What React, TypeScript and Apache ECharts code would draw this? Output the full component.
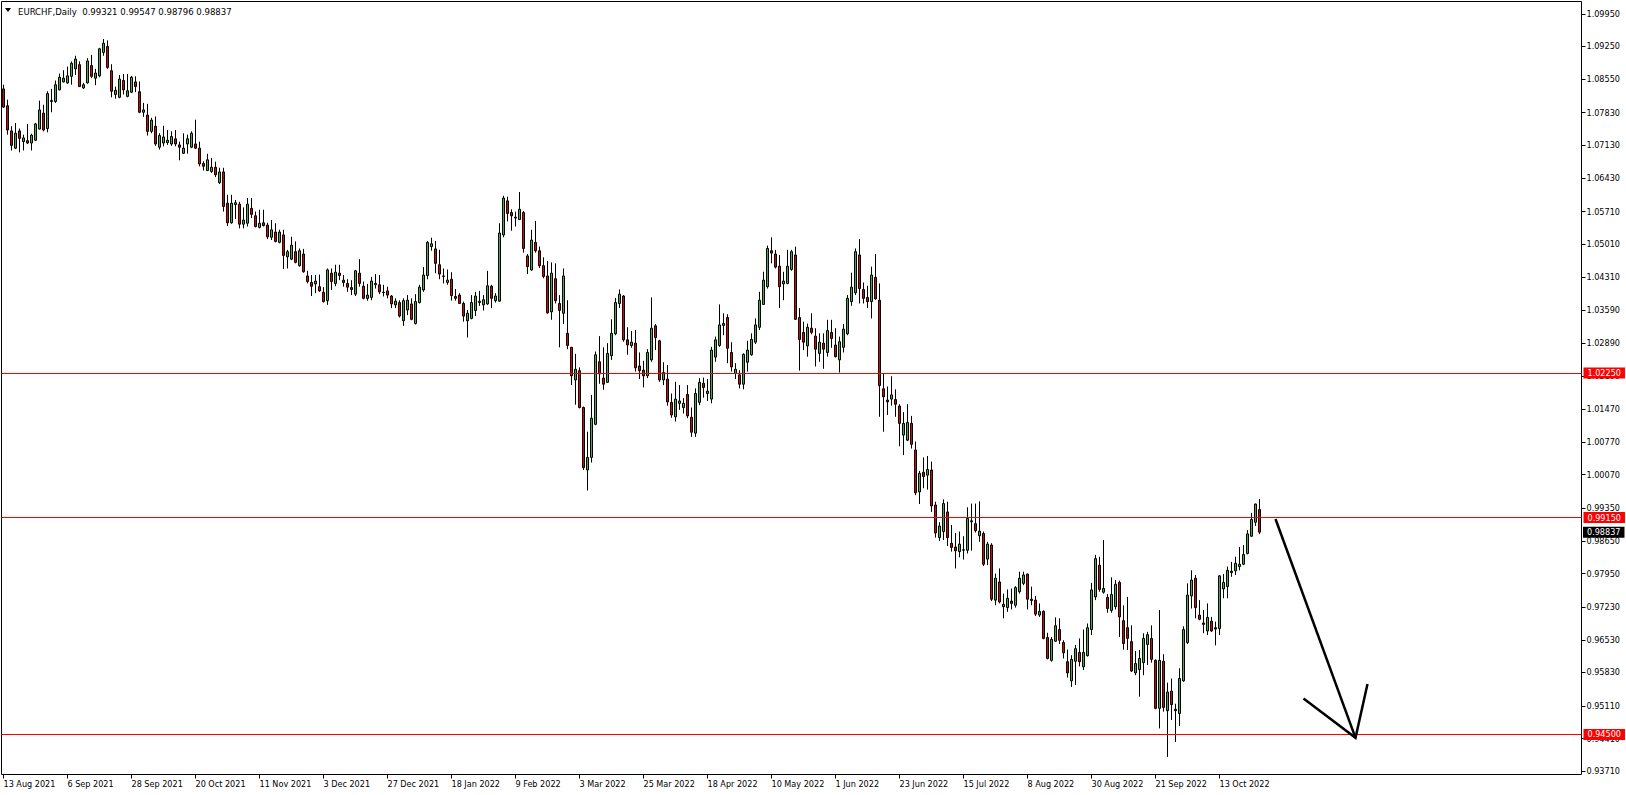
import React, { useEffect, useRef } from "react";
import * as echarts from "echarts";

const FONT = "'DejaVu Sans Condensed', 'Liberation Sans', Arial, sans-serif";

const symbolName = "EURCHF,Daily";
// last bar quote: open, high, low, close
const lastQuote = [0.99321, 0.99547, 0.98796, 0.98837];
const firstDay = "2021-08-13";
const totalSlots = 395;
const labelEvery = 16;

// candles: [open, close, low, high]
const aug2021 = [
  [1.0834, 1.0795, 1.0793, 1.0843], [1.0798, 1.0746, 1.0736, 1.0811], [1.0744, 1.0713, 1.0702, 1.0754],
  [1.0707, 1.0739, 1.0705, 1.0761], [1.0744, 1.0728, 1.0698, 1.0749], [1.0721, 1.0729, 1.0702, 1.0736],
  [1.0723, 1.0718, 1.0716, 1.0759], [1.0718, 1.0735, 1.0702, 1.0738], [1.0724, 1.0759, 1.0722, 1.0761],
  [1.0748, 1.0789, 1.0747, 1.0809], [1.0782, 1.0746, 1.0743, 1.08], [1.0749, 1.0824, 1.0741, 1.0829],
  [1.0809, 1.0807, 1.0784, 1.0834],
];
const sep2021 = [
  [1.0807, 1.0843, 1.0804, 1.0852], [1.0832, 1.0859, 1.0831, 1.0867], [1.0849, 1.0857, 1.0848, 1.0874],
  [1.0847, 1.0862, 1.0845, 1.0882], [1.0861, 1.0889, 1.0843, 1.0893], [1.0877, 1.0898, 1.0864, 1.0905],
  [1.0886, 1.0839, 1.0838, 1.0893], [1.0836, 1.0843, 1.0834, 1.0847], [1.0847, 1.0894, 1.0845, 1.09],
  [1.0884, 1.0861, 1.0857, 1.0907], [1.0857, 1.0868, 1.0842, 1.0877], [1.0862, 1.092, 1.0859, 1.0922],
  [1.0912, 1.0932, 1.0905, 1.0941], [1.0925, 1.088, 1.0877, 1.0938], [1.0873, 1.0829, 1.0816, 1.0887],
  [1.0822, 1.0831, 1.0813, 1.0839], [1.0816, 1.0855, 1.0814, 1.0864], [1.0852, 1.0832, 1.0822, 1.0866],
  [1.0818, 1.083, 1.0816, 1.0866], [1.0827, 1.0859, 1.0825, 1.0862], [1.0849, 1.0839, 1.0827, 1.0861],
  [1.0828, 1.0784, 1.0782, 1.085],
];
const oct2021 = [
  [1.0784, 1.0789, 1.0774, 1.0804], [1.0778, 1.0743, 1.0734, 1.0802], [1.0743, 1.0767, 1.0739, 1.0772],
  [1.0754, 1.0716, 1.0712, 1.0775], [1.0709, 1.0734, 1.0704, 1.0739], [1.0718, 1.0731, 1.0711, 1.0755],
  [1.0719, 1.0724, 1.0714, 1.0746], [1.0716, 1.0732, 1.0712, 1.0743], [1.0727, 1.0716, 1.0711, 1.0746],
  [1.0714, 1.0709, 1.0681, 1.0721], [1.0696, 1.0707, 1.0695, 1.0739], [1.0716, 1.0727, 1.0695, 1.0736],
  [1.0709, 1.0739, 1.0707, 1.0743], [1.0716, 1.0707, 1.0705, 1.0768], [1.0707, 1.0673, 1.0668, 1.0721],
  [1.0674, 1.0668, 1.0659, 1.0679], [1.0659, 1.0682, 1.0659, 1.0695], [1.0657, 1.0666, 1.0654, 1.0686],
  [1.0666, 1.065, 1.0645, 1.0678], [1.0633, 1.0656, 1.063, 1.0665], [1.0656, 1.0582, 1.0571, 1.0665],
];
const nov2021 = [
  [1.0589, 1.0547, 1.054, 1.0607], [1.0547, 1.0589, 1.0545, 1.0607], [1.0586, 1.059, 1.0555, 1.0596],
  [1.0587, 1.0544, 1.0535, 1.0592], [1.0544, 1.0553, 1.0535, 1.058], [1.0546, 1.0587, 1.0539, 1.06],
  [1.0578, 1.0565, 1.0557, 1.06], [1.0562, 1.0539, 1.0537, 1.0571], [1.0537, 1.0546, 1.0535, 1.0575],
  [1.0547, 1.0541, 1.0539, 1.0575], [1.0542, 1.0517, 1.0512, 1.0547], [1.0516, 1.0532, 1.051, 1.0553],
  [1.0527, 1.0507, 1.0505, 1.0546], [1.0505, 1.0527, 1.0503, 1.0532], [1.0521, 1.0477, 1.0448, 1.0532],
  [1.0474, 1.0485, 1.0449, 1.0489], [1.0469, 1.0499, 1.0467, 1.0517], [1.0485, 1.0462, 1.046, 1.0507],
  [1.0455, 1.0487, 1.0453, 1.0492], [1.048, 1.0442, 1.044, 1.0491], [1.0433, 1.0421, 1.0417, 1.0444],
  [1.0419, 1.0411, 1.039, 1.0435],
];
const dec2021 = [
  [1.0416, 1.0422, 1.0396, 1.0435], [1.041, 1.0401, 1.0399, 1.0436], [1.0398, 1.0378, 1.0376, 1.0409],
  [1.038, 1.0446, 1.0371, 1.0449], [1.0439, 1.0421, 1.0403, 1.0449], [1.0417, 1.0441, 1.0411, 1.0457],
  [1.0439, 1.0434, 1.0424, 1.0457], [1.0424, 1.0419, 1.041, 1.0435], [1.0417, 1.0409, 1.0399, 1.0426],
  [1.0408, 1.0404, 1.0392, 1.0424], [1.0394, 1.0444, 1.039, 1.0446], [1.0439, 1.0417, 1.041, 1.0469],
  [1.0411, 1.0385, 1.0383, 1.0421], [1.0385, 1.0392, 1.038, 1.0416], [1.0387, 1.0422, 1.0381, 1.0431],
  [1.0414, 1.0417, 1.0406, 1.0437], [1.0414, 1.0399, 1.0394, 1.0435], [1.0398, 1.0397, 1.0389, 1.0414],
  [1.0401, 1.0392, 1.0385, 1.041], [1.039, 1.0373, 1.0364, 1.0392], [1.0371, 1.0379, 1.0364, 1.0385],
  [1.0376, 1.0347, 1.0344, 1.0381], [1.0337, 1.038, 1.0326, 1.0385],
];
const jan2022 = [
  [1.036, 1.0381, 1.0349, 1.0392], [1.0373, 1.034, 1.0338, 1.0385], [1.0331, 1.0378, 1.0329, 1.0394],
  [1.0376, 1.0409, 1.0374, 1.0414], [1.0403, 1.0435, 1.0399, 1.0452], [1.0434, 1.0505, 1.0426, 1.0508],
  [1.0496, 1.0502, 1.0487, 1.0515], [1.0491, 1.046, 1.0439, 1.0508], [1.0457, 1.0437, 1.0426, 1.0489],
  [1.0433, 1.0432, 1.0417, 1.0449], [1.0419, 1.0424, 1.0414, 1.0447], [1.0426, 1.0391, 1.038, 1.0441],
  [1.0389, 1.0385, 1.038, 1.0405], [1.0392, 1.0374, 1.0373, 1.0396], [1.0374, 1.0347, 1.0335, 1.0378],
  [1.0337, 1.0353, 1.0301, 1.036], [1.0342, 1.0376, 1.034, 1.0392], [1.0359, 1.039, 1.0347, 1.0399],
  [1.0376, 1.0379, 1.0369, 1.0401], [1.0371, 1.0382, 1.0359, 1.0392], [1.0373, 1.0412, 1.0371, 1.0444],
];
const feb2022 = [
  [1.0411, 1.0385, 1.0364, 1.0414], [1.038, 1.039, 1.0376, 1.0396], [1.0379, 1.0525, 1.0378, 1.0546],
  [1.0521, 1.06, 1.0516, 1.0605], [1.0594, 1.0567, 1.055, 1.0603], [1.0569, 1.0562, 1.053, 1.0576],
  [1.0559, 1.0557, 1.0539, 1.0571], [1.0554, 1.0576, 1.0553, 1.0613], [1.0569, 1.0492, 1.0483, 1.0572],
  [1.0476, 1.0453, 1.0437, 1.048], [1.0446, 1.051, 1.0444, 1.0532], [1.0505, 1.0487, 1.0483, 1.0551],
  [1.0487, 1.0455, 1.045, 1.0496], [1.0455, 1.0432, 1.0428, 1.0473], [1.0433, 1.0354, 1.0352, 1.0465],
  [1.0356, 1.0439, 1.0339, 1.0462], [1.0427, 1.038, 1.0374, 1.046], [1.0374, 1.0359, 1.028, 1.0392],
  [1.0353, 1.0433, 1.033, 1.0449], [1.031, 1.0284, 1.0276, 1.0381],
];
const mar2022 = [
  [1.028, 1.0219, 1.0199, 1.0281], [1.021, 1.0233, 1.0157, 1.0266], [1.023, 1.0151, 1.0149, 1.0237],
  [1.0151, 1.0022, 1.0017, 1.0153], [1.0017, 1.0044, 0.9973, 1.0099], [1.0044, 1.0128, 1.0033, 1.0178],
  [1.0115, 1.0264, 1.0113, 1.0271], [1.0249, 1.0223, 1.0202, 1.0304], [1.0214, 1.0201, 1.0189, 1.028],
  [1.0205, 1.0267, 1.0204, 1.0289], [1.0262, 1.031, 1.0253, 1.034], [1.0309, 1.0376, 1.0306, 1.0386],
  [1.0374, 1.0394, 1.0364, 1.0404], [1.039, 1.0296, 1.0292, 1.0392], [1.0296, 1.0285, 1.0264, 1.0323],
  [1.0284, 1.0291, 1.0279, 1.0315], [1.0289, 1.0236, 1.0228, 1.0317], [1.024, 1.023, 1.0212, 1.0269],
  [1.0231, 1.0219, 1.0194, 1.0251], [1.0219, 1.0269, 1.0214, 1.0276], [1.0253, 1.0321, 1.0249, 1.0387],
  [1.0326, 1.0301, 1.0274, 1.033], [1.0294, 1.021, 1.0206, 1.0296],
];
const apr2022 = [
  [1.021, 1.0226, 1.0199, 1.0248], [1.0212, 1.0163, 1.0155, 1.0242], [1.0162, 1.0135, 1.0129, 1.0181],
  [1.0131, 1.0169, 1.0121, 1.0206], [1.016, 1.0165, 1.0146, 1.0199], [1.0151, 1.016, 1.0138, 1.0171],
  [1.0179, 1.0133, 1.0128, 1.0199], [1.013, 1.0098, 1.0088, 1.0151], [1.0096, 1.0181, 1.0088, 1.0192],
  [1.0162, 1.0205, 1.0156, 1.0214], [1.0203, 1.0194, 1.0172, 1.0215], [1.0181, 1.0186, 1.0165, 1.0212],
  [1.0169, 1.0274, 1.016, 1.0281], [1.0259, 1.0296, 1.0249, 1.0303], [1.0284, 1.0328, 1.0281, 1.0372],
  [1.0327, 1.0331, 1.0306, 1.0353], [1.0344, 1.0278, 1.0246, 1.0351], [1.0269, 1.0238, 1.0228, 1.0291],
  [1.0224, 1.0233, 1.0212, 1.0246], [1.0221, 1.0201, 1.0192, 1.0231], [1.0201, 1.0265, 1.019, 1.0267],
];
const may2022 = [
  [1.0248, 1.0274, 1.0228, 1.0294], [1.0264, 1.0297, 1.0262, 1.031], [1.0291, 1.0328, 1.0287, 1.0342],
  [1.0323, 1.0381, 1.0317, 1.0399], [1.0372, 1.0424, 1.0371, 1.0442], [1.041, 1.0492, 1.0406, 1.0498],
  [1.0487, 1.0482, 1.046, 1.0516], [1.048, 1.0452, 1.0449, 1.0489], [1.0454, 1.041, 1.0364, 1.0478],
  [1.0416, 1.0422, 1.0381, 1.0442], [1.0417, 1.0454, 1.0415, 1.0489], [1.0447, 1.0485, 1.0444, 1.0489],
  [1.0478, 1.034, 1.0339, 1.0496], [1.0344, 1.0297, 1.023, 1.0364], [1.0312, 1.0291, 1.0274, 1.0335],
  [1.0283, 1.0323, 1.026, 1.0331], [1.0321, 1.0312, 1.0308, 1.0353], [1.0304, 1.0276, 1.0239, 1.0321],
  [1.0267, 1.0291, 1.0249, 1.031], [1.0289, 1.0276, 1.0234, 1.031], [1.0269, 1.0316, 1.026, 1.0339],
  [1.0312, 1.0299, 1.0279, 1.0339],
];
const jun2022 = [
  [1.0285, 1.026, 1.0258, 1.0321], [1.0253, 1.0292, 1.0226, 1.0303], [1.028, 1.0319, 1.0269, 1.033],
  [1.0309, 1.0385, 1.0306, 1.0392], [1.0378, 1.0409, 1.0369, 1.044], [1.0397, 1.0485, 1.0392, 1.0492],
  [1.0478, 1.0406, 1.0374, 1.0512], [1.0404, 1.0385, 1.0374, 1.0419], [1.0387, 1.0378, 1.0364, 1.0412],
  [1.0378, 1.0435, 1.0342, 1.0453], [1.043, 1.0384, 1.0382, 1.048], [1.0381, 1.0198, 1.0131, 1.0417],
  [1.0191, 1.0174, 1.0099, 1.0223], [1.0167, 1.0163, 1.0135, 1.0196], [1.0169, 1.0178, 1.0155, 1.0218],
  [1.0168, 1.0158, 1.0131, 1.019], [1.0154, 1.0117, 1.0068, 1.0158], [1.0092, 1.0117, 1.0049, 1.0141],
  [1.0081, 1.0119, 1.0079, 1.0158], [1.0117, 1.0072, 1.0063, 1.0133], [1.006, 0.9968, 0.9963, 1.0078],
  [0.997, 1.001, 0.9944, 1.0015],
];
const jul2022 = [
  [1.0012, 1.0003, 0.9978, 1.0044], [1.0006, 1.0018, 0.9975, 1.0047], [1.0017, 0.994, 0.9927, 1.0035],
  [0.9942, 0.9882, 0.9872, 0.9949], [0.9872, 0.9897, 0.9865, 0.9905], [0.9885, 0.9945, 0.9867, 0.9954],
  [0.9927, 0.9872, 0.9854, 0.9949], [0.986, 0.9851, 0.9842, 0.9899], [0.9852, 0.9844, 0.9806, 0.9882],
  [0.9842, 0.9858, 0.983, 0.9885], [0.9845, 0.9846, 0.9825, 0.9875], [0.9845, 0.9913, 0.9838, 0.9937],
  [0.9908, 0.9906, 0.9844, 0.9945], [0.9902, 0.9887, 0.9883, 0.9945], [0.9876, 0.9886, 0.9863, 0.995],
  [0.9881, 0.9815, 0.9811, 0.9885], [0.9826, 0.9858, 0.9813, 0.9863], [0.9856, 0.974, 0.9736, 0.986],
  [0.9738, 0.9785, 0.9727, 0.9795], [0.9777, 0.9734, 0.9731, 0.9806], [0.9724, 0.9729, 0.9699, 0.9752],
];
const aug2022 = [
  [0.9722, 0.9742, 0.9713, 0.9761], [0.9736, 0.9731, 0.9718, 0.9763], [0.9727, 0.9765, 0.9722, 0.9768],
  [0.9756, 0.9785, 0.9752, 0.9799], [0.9774, 0.9792, 0.977, 0.9799], [0.9794, 0.974, 0.9718, 0.9795],
  [0.974, 0.9737, 0.9727, 0.9767], [0.9738, 0.9708, 0.9704, 0.9747], [0.9706, 0.9714, 0.9702, 0.9731],
  [0.9714, 0.9656, 0.9654, 0.9716], [0.9658, 0.9613, 0.9611, 0.9668], [0.9609, 0.9654, 0.9606, 0.9659],
  [0.965, 0.9683, 0.9649, 0.9701], [0.9675, 0.9652, 0.9644, 0.9699], [0.9647, 0.9625, 0.9613, 0.9652],
  [0.9606, 0.9582, 0.9572, 0.9632], [0.9565, 0.9611, 0.9552, 0.962], [0.9607, 0.9634, 0.9556, 0.9642],
  [0.9626, 0.9606, 0.9596, 0.9656], [0.9595, 0.9626, 0.9588, 0.9675], [0.9619, 0.9679, 0.9617, 0.9688],
  [0.9675, 0.976, 0.9663, 0.9775], [0.9745, 0.9827, 0.9738, 0.9835],
];
const sep2022 = [
  [0.9813, 0.9761, 0.9756, 0.9831], [0.9755, 0.9763, 0.9752, 0.9867], [0.9744, 0.972, 0.9711, 0.9751],
  [0.9716, 0.975, 0.9711, 0.9787], [0.9724, 0.9772, 0.9718, 0.9781], [0.9776, 0.9702, 0.9659, 0.978],
  [0.9694, 0.9645, 0.9632, 0.9727], [0.9679, 0.9656, 0.9631, 0.9745], [0.9649, 0.9586, 0.9584, 0.9684],
  [0.9582, 0.9602, 0.9577, 0.9629], [0.9589, 0.9613, 0.9531, 0.9631], [0.9604, 0.9656, 0.9577, 0.9667],
  [0.9643, 0.9664, 0.9599, 0.967], [0.9656, 0.9611, 0.9604, 0.9684], [0.9609, 0.9506, 0.9504, 0.9611],
  [0.9506, 0.9609, 0.9463, 0.9717], [0.9607, 0.9508, 0.9499, 0.9622], [0.9501, 0.9541, 0.9402, 0.9561],
  [0.9543, 0.9514, 0.9481, 0.957], [0.9504, 0.9501, 0.9434, 0.9516], [0.9495, 0.957, 0.9468, 0.9592],
  [0.9565, 0.9675, 0.9563, 0.9682],
];
const oct2022 = [
  [0.9647, 0.9749, 0.9644, 0.9774], [0.9747, 0.9781, 0.972, 0.9802], [0.9785, 0.9722, 0.9699, 0.9792],
  [0.9706, 0.9697, 0.9695, 0.9738], [0.9689, 0.9686, 0.9667, 0.9717], [0.9672, 0.9701, 0.9663, 0.9731],
  [0.9693, 0.9672, 0.967, 0.9702], [0.9679, 0.9676, 0.9641, 0.9692], [0.9677, 0.979, 0.9663, 0.9792],
  [0.9762, 0.9776, 0.9742, 0.9794], [0.9767, 0.9802, 0.9742, 0.981], [0.98, 0.9797, 0.9788, 0.982],
  [0.9801, 0.9817, 0.9792, 0.9831], [0.981, 0.9815, 0.9802, 0.9852], [0.9815, 0.9836, 0.9813, 0.9856],
  [0.9838, 0.988, 0.9836, 0.9888], [0.9875, 0.9911, 0.9874, 0.9925], [0.9905, 0.9944, 0.9897, 0.9945],
  [0.99321, 0.98837, 0.98796, 0.99547],
];

const levelLines = [1.0225, 0.9915, 0.945];
const priceTicks = [
  1.0995, 1.0925, 1.0855, 1.0783, 1.0713, 1.0643, 1.0571, 1.0501, 1.0431, 1.0359, 1.0289, 1.0219,
  1.0147, 1.0077, 1.0007, 0.9935, 0.9865, 0.9795, 0.9723, 0.9653, 0.9583, 0.9511, 0.9441, 0.9371,
];
const priceMin = 0.93642;
const priceMax = 1.10214;

// hand-drawn arrow annotation: [bar index, price]
const arrowShaft = [[318, 0.99119], [338, 0.94428]];
const arrowHead = [[325, 0.95271], [338, 0.94428], [341, 0.95584]];

const MONTHS = ["Jan", "Feb", "Mar", "Apr", "May", "Jun", "Jul", "Aug", "Sep", "Oct", "Nov", "Dec"];

function tradingDays(start: string, n: number): string[] {
  const out: string[] = [];
  const d = new Date(start + "T00:00:00Z");
  while (out.length < n) {
    const wd = d.getUTCDay();
    if (wd !== 0 && wd !== 6) {
      out.push(`${d.getUTCDate()} ${MONTHS[d.getUTCMonth()]} ${d.getUTCFullYear()}`);
    }
    d.setUTCDate(d.getUTCDate() + 1);
  }
  return out;
}

export default function App() {
  const ref = useRef<HTMLDivElement>(null);

  useEffect(() => {
    if (!ref.current) return;
    const chart = echarts.init(ref.current, null, { renderer: "svg" });

    const candles = [
      ...aug2021, ...sep2021, ...oct2021, ...nov2021, ...dec2021, ...jan2022, ...feb2022, ...mar2022,
      ...apr2022, ...may2022, ...jun2022, ...jul2022, ...aug2022, ...sep2022, ...oct2022,
    ];
    const n = candles.length;
    const dates = tradingDays(firstDay, n);
    const categories = dates.concat(
      Array.from({ length: totalSlots - n }, (_, k) => "future" + k)
    );
    const showIdx = (index: number) => index % labelEvery === 0 && index < n;

    chart.setOption({
      animation: false,
      backgroundColor: "#ffffff",
      grid: {
        left: 1.5,
        top: 1.5,
        width: 1580,
        height: 773,
        show: true,
        borderColor: "#000000",
        borderWidth: 1,
        backgroundColor: "transparent",
      },
      xAxis: {
        type: "category",
        data: categories,
        boundaryGap: true,
        axisLine: { show: false },
        splitLine: { show: false },
        axisTick: {
          show: true,
          interval: (i: number) => showIdx(i),
          alignWithLabel: true,
          length: 4,
          lineStyle: { color: "#000000", width: 1 },
        },
        axisLabel: {
          interval: (i: number) => showIdx(i),
          align: "left",
          margin: 5,
          fontSize: 9,
          fontFamily: FONT,
          color: "#000000",
        },
      },
      yAxis: {
        type: "value",
        position: "right",
        min: priceMin,
        max: priceMax,
        scale: true,
        axisLine: { show: false },
        splitLine: { show: false },
        axisTick: {
          show: true,
          customValues: priceTicks,
          length: 4,
          lineStyle: { color: "#000000", width: 1 },
        },
        axisLabel: {
          customValues: priceTicks,
          formatter: (v: number) => v.toFixed(5),
          margin: 5,
          fontSize: 9,
          fontFamily: FONT,
          color: "#000000",
        },
      },
      series: [
        {
          type: "candlestick",
          data: candles,
          barWidth: 2,
          large: false,
          itemStyle: {
            color: "#33b833",
            color0: "#e00000",
            borderColor: "#000000",
            borderColor0: "#000000",
            borderColorDoji: "#000000",
            borderWidth: 1,
          },
          markLine: {
            silent: true,
            symbol: "none",
            precision: 5,
            animation: false,
            lineStyle: { color: "#ff0000", width: 1, type: "solid" },
            label: {
              show: true,
              position: "end",
              distance: 2,
              formatter: (p: any) => Number(p.value).toFixed(5),
              color: "#ffffff",
              backgroundColor: "#ff0000",
              padding: [1, 4, 1, 4],
              fontSize: 9,
              fontFamily: FONT,
            },
            emphasis: { disabled: true },
            data: levelLines.map((v) => ({ yAxis: v })),
          },
        },
      ],
    });

    const toPx = (p: number[]) => chart.convertToPixel({ gridIndex: 0 }, p) as number[];
    const closeY = chart.convertToPixel({ yAxisIndex: 0 }, lastQuote[3]) as number;

    chart.setOption({
      graphic: [
        {
          type: "polygon",
          shape: { points: [[5, 8], [11, 8], [8, 12]] },
          style: { fill: "#000000" },
          z: 100,
        },
        {
          type: "text",
          x: 18,
          y: 11,
          style: {
            text: `${symbolName}  ${lastQuote.map((v) => v.toFixed(5)).join(" ")}`,
            fill: "#000000",
            fontSize: 9.5,
            fontFamily: FONT,
            verticalAlign: "middle",
            align: "left",
          },
          z: 100,
        },
        {
          type: "text",
          x: 1583,
          y: closeY,
          style: {
            text: lastQuote[3].toFixed(5),
            fill: "#ffffff",
            backgroundColor: "#000000",
            padding: [1, 4, 1, 4],
            fontSize: 9,
            fontFamily: FONT,
            verticalAlign: "middle",
            align: "left",
          },
          z: 100,
        },
        {
          type: "polyline",
          shape: { points: arrowShaft.map(toPx) },
          style: { stroke: "#000000", lineWidth: 2.5, fill: "none" },
          z: 100,
        },
        {
          type: "polyline",
          shape: { points: arrowHead.map(toPx) },
          style: { stroke: "#000000", lineWidth: 2.5, fill: "none" },
          z: 100,
        },
      ],
    });

    return () => chart.dispose();
  }, []);

  return (
    <div
      ref={ref}
      style={{ position: "absolute", left: 0, top: 0, width: 1626, height: 795, background: "#fff" }}
    />
  );
}
